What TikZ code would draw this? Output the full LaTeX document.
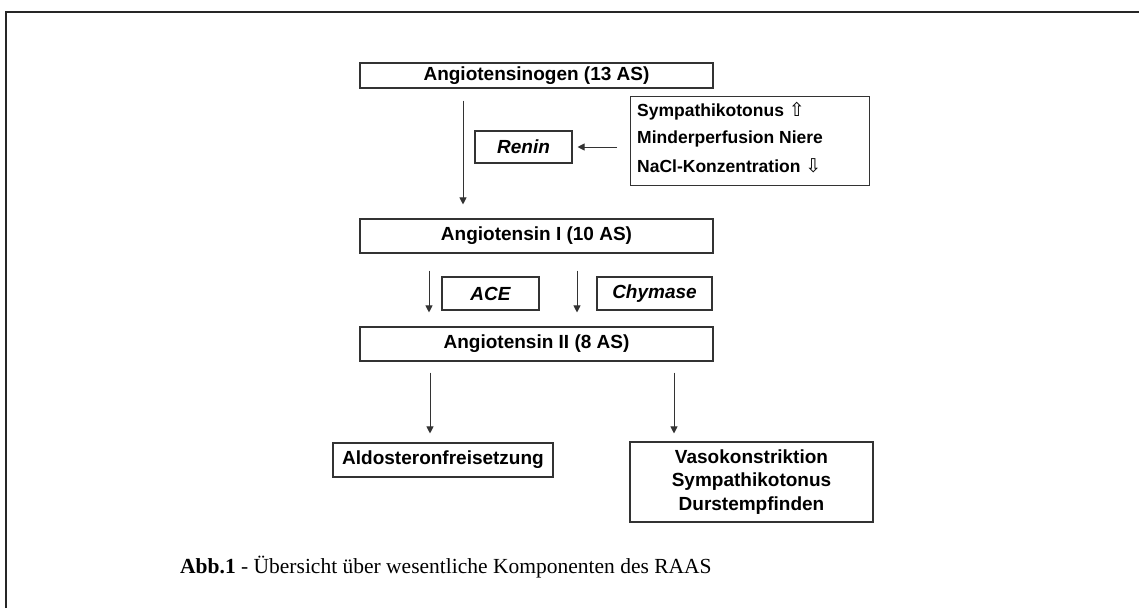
\documentclass[tikz,border=0pt]{standalone}
\usepackage{fontspec}
\setmainfont{Liberation Serif}
\newfontfamily\arial{Liberation Sans}
\newfontfamily\symf{DejaVu Sans}
\usetikzlibrary{arrows.meta}
\newcommand{\upsym}{{\symf\mdseries\upshape\fontsize{19}{16}\selectfont ⇧}}
\newcommand{\downsym}{{\symf\mdseries\upshape\fontsize{19}{16}\selectfont ⇩}}
\begin{document}
\begin{tikzpicture}[x=1pt,y=-1pt,
  box/.style={draw=black!80, line width=1.1pt, inner sep=0pt, align=center,
    font=\arial\bfseries\fontsize{19}{23}\selectfont},
  ebox/.style={box, font=\arial\bfseries\itshape\fontsize{19}{23}\selectfont},
  ctext/.style={font=\arial\bfseries\fontsize{17.5}{21}\selectfont, anchor=west, inner sep=0pt},
  arr/.style={draw=black!80, line width=1pt, -{Triangle[length=7pt,width=7pt]}}]
\useasboundingbox (0,0) rectangle (1139,608);
\fill[white] (0,0) rectangle (1139,608);
% frame
\draw[line width=2.4pt, black!85] (6,608) -- (6,12) -- (1139,12);
% boxes
\node[box, minimum width=353pt, minimum height=25pt] (ag) at (536.5,75.5) {Angiotensinogen (13 AS)};
\node[ebox, minimum width=97pt, minimum height=32pt] (renin) at (523.5,147) {Renin};
\node[box, minimum width=239pt, minimum height=89pt, anchor=north west] (cond) at (630,96) {};
\node[ctext] (c1) at (637,111) {Sympathikotonus \upsym};
\node[ctext] (c2) at (637,139) {Minderperfusion Niere};
\node[ctext] (c3) at (637,166) {NaCl-Konzentration \downsym};
\node[box, minimum width=353pt, minimum height=34pt] (a1) at (536.5,236) {Angiotensin I (10 AS)};
\node[ebox, minimum width=97pt, minimum height=33pt] (ace) at (490.5,293.5) {ACE};
\node[ebox, minimum width=115pt, minimum height=33pt] (chy) at (654.5,293.5) {Chymase};
\node[box, minimum width=353pt, minimum height=34pt] (a2) at (536.5,344) {Angiotensin II (8 AS)};
\node[box, minimum width=220pt, minimum height=34pt] (ald) at (443,460) {Aldosteronfreisetzung};
\node[box, minimum width=243pt, minimum height=80pt, font=\arial\bfseries\fontsize{19}{23.5}\selectfont] (vaso) at (751.5,482) {Vasokonstriktion\\Sympathikotonus\\Durstempfinden};
% arrows
\coordinate (x1) at (463,0);
\coordinate (x2) at (429,0);
\coordinate (x3) at (577,0);
\coordinate (x4) at (430,0);
\coordinate (x5) at (674,0);
\draw[arr, shorten <=12pt, shorten >=14pt] (ag.south -| x1) -- (a1.north -| x1);
\draw[arr, shorten <=13pt, shorten >=5pt] (cond.west |- renin) -- (renin.east);
\draw[arr, shorten <=17pt, shorten >=14pt] (a1.south -| x2) -- (a2.north -| x2);
\draw[arr, shorten <=17pt, shorten >=14pt] (a1.south -| x3) -- (a2.north -| x3);
\draw[arr, shorten <=11pt, shorten >=9pt] (a2.south -| x4) -- (ald.north -| x4);
\draw[arr, shorten <=11pt, shorten >=8pt] (a2.south -| x5) -- (vaso.north -| x5);
% caption
\node[anchor=west, font=\fontsize{21.5}{26}\selectfont, inner sep=0pt] (cap) at (180,567) {\textbf{Abb.1} - Übersicht über wesentliche Komponenten des RAAS};
\end{tikzpicture}
\end{document}
